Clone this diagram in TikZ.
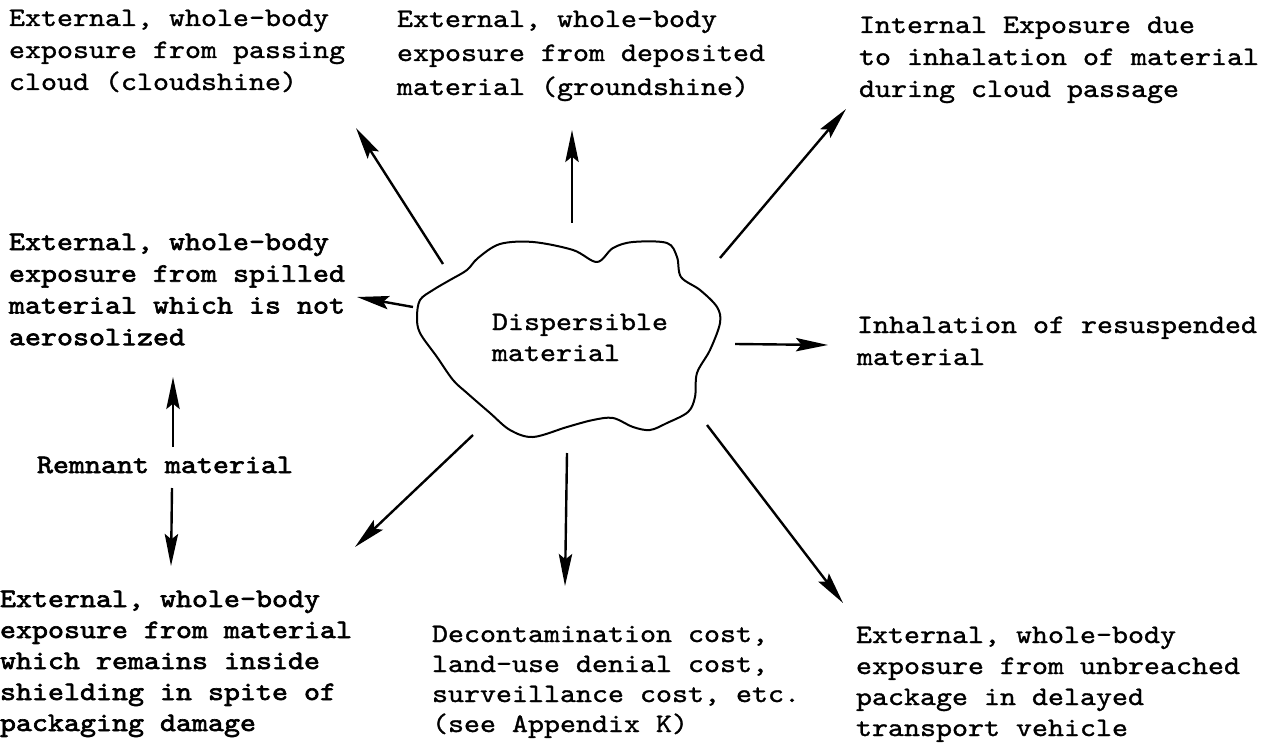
\documentclass[tikz,border=0pt]{standalone}
\usepackage{fontspec}
\usetikzlibrary{arrows.meta}
\newfontfamily\regmono{lmmono10-regular.otf}[FakeStretch=1.143,FakeBold=1.2]
\newfontfamily\darkmono{lmmono10-regular.otf}[FakeStretch=1.143,FakeBold=2.4]
\newcommand{\mtext}[3]{#1\fontsize{20}{#2}\selectfont\begin{tabular}[t]{@{}l@{}}#3\end{tabular}}
\tikzset{
  txt/.style={inner sep=0pt, outer sep=0pt, anchor=base west},
  arr/.style={line width=1.8pt, -{Stealth[length=24pt,width=10pt,inset=4pt]}},
  cloudline/.style={line width=1.5pt, line join=round}
}
\begin{document}
\begin{tikzpicture}[x=0.75pt,y=-0.75pt]
\useasboundingbox (0,0) rectangle (1276,745);

% cloud outline
\draw[cloudline] plot[smooth cycle, tension=0.55] coordinates {
 (478,258) (500,244) (533,242) (573,250) (597,262) (613,248) (633,242)
 (667,243) (677,257) (681,277) (700,290) (717,307) (720,323) (710,350)
 (697,373) (695,397) (688,412) (667,423) (650,430) (633,427) (613,418)
 (593,420) (567,427) (533,437) (510,430) (490,413) (467,393) (453,380)
 (437,357) (420,333) (417,317) (420,300) (433,290) (450,280) (467,270)};

% text nodes
\node[txt] (center) at (492,330) {\mtext{\regmono}{23.25pt}{Dispersible\\material}};
\node[txt] (tl) at (9,26) {\mtext{\regmono}{24pt}{External, whole-body\\exposure from passing\\cloud (cloudshine)}};
\node[txt] (tm) at (397,27) {\mtext{\regmono}{25.5pt}{External, whole-body\\exposure from deposited\\material (groundshine)}};
\node[txt] (tr) at (859,33) {\mtext{\regmono}{24pt}{Internal Exposure due\\to inhalation of material\\during cloud passage}};
\node[txt] (rm) at (857,333) {\mtext{\regmono}{24pt}{Inhalation of resuspended\\material}};
\node[txt] (lm) at (9,250) {\mtext{\darkmono}{23.8pt}{External, whole-body\\exposure from spilled\\material which is not\\aerosolized}};
\node[txt] (rem) at (37,473) {\mtext{\darkmono}{24pt}{Remnant material}};
\node[txt] (bl) at (0,607) {\mtext{\darkmono}{23.25pt}{External, whole-body\\exposure from material\\which remains inside\\shielding in spite of\\packaging damage}};
\node[txt] (bm) at (432,642) {\mtext{\regmono}{22.5pt}{Decontamination cost,\\land-use denial cost,\\surveillance cost, etc.\\(see Appendix K)}};
\node[txt] (br) at (856,643) {\mtext{\regmono}{23.25pt}{External, whole-body\\exposure from unbreached\\package in delayed\\transport vehicle}};

% arrow end points
\coordinate (sA) at (443,264); \coordinate (tA) at (356,128);
\coordinate (sB) at (572,223); \coordinate (tB) at (572,130);
\coordinate (sC) at (720,258); \coordinate (tC) at (846,109);
\coordinate (sD) at (413,307); \coordinate (tD) at (357,297);
\coordinate (sE) at (735,344); \coordinate (tE) at (828,345);
\coordinate (sF) at (473,435); \coordinate (tF) at (355,547);
\coordinate (sG) at (567,453); \coordinate (tG) at (565,586);
\coordinate (sH) at (707,425); \coordinate (tH) at (843,603);
\coordinate (sI) at (173,447); \coordinate (tI) at (173,377);
\coordinate (sJ) at (172,488); \coordinate (tJ) at (171,566);

\draw[arr] (sA) -- (tA);
\draw[arr] (sB) -- (tB);
\draw[arr] (sC) -- (tC);
\draw[arr] (sD) -- (tD);
\draw[arr] (sE) -- (tE);
\draw[arr] (sF) -- (tF);
\draw[arr] (sG) -- (tG);
\draw[arr] (sH) -- (tH);
\draw[arr] (sI) -- (tI);
\draw[arr] (sJ) -- (tJ);
\end{tikzpicture}
\end{document}
